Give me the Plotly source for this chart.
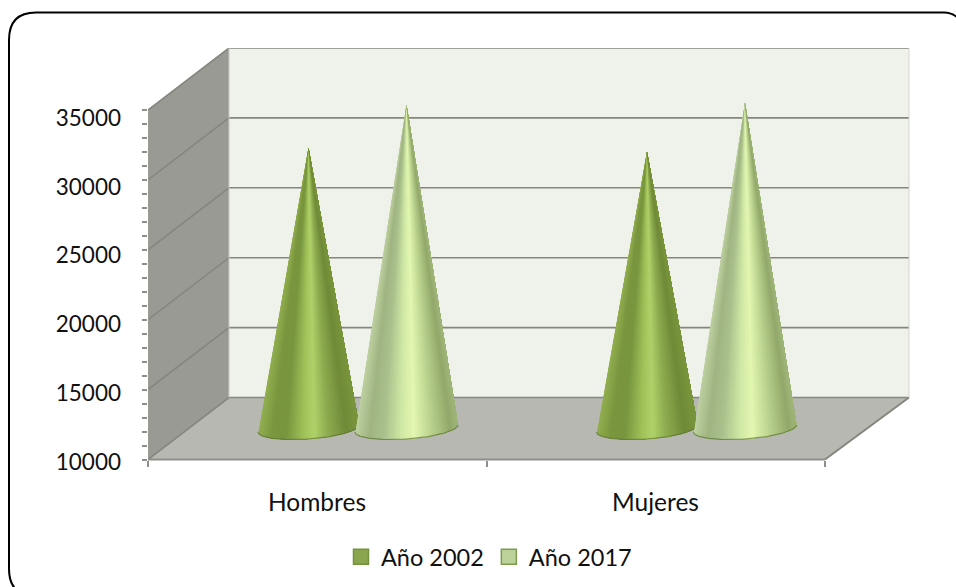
import numpy as np
import plotly.graph_objects as go

# ---- data ----
categories = ["Hombres", "Mujeres"]
series_names = ["Año 2002", "Año 2017"]
valores_2002 = [30060, 29780]
valores_2017 = [33140, 33280]
y_ticks = [10000, 15000, 20000, 25000, 30000, 35000]
minor_step = 1000

W, H = 956, 587
# pixel geometry of the front plane
X0, X1 = 148.0, 825.0      # category axis extent
Y0, Y1 = 459.5, 110.0      # 10000 and 35000
DX, DY = 81.0, 62.0        # depth of the box
DX_R = 84.0                # depth at the right-hand end
PX_PER_X = (X1 - X0) / 2   # px per category
PX_PER_Y = (Y0 - Y1) / 25000
DOM_BOTTOM = 490.0         # plot domain runs a little below the floor for the label axis

left, right, top = X0, X1 + DX_R + 2, Y1 - DY
x_range = [0, (right - left) / PX_PER_X]
y_range = [10000 - (DOM_BOTTOM - Y0) / PX_PER_Y, 10000 + (Y0 - top) / PX_PER_Y]
dxd = DX / PX_PER_X
dxr = DX_R / PX_PER_X
dyd = DY / PX_PER_Y
x_end = 2.0


def poly(xs, ys, color):
    return go.Scatter(x=xs, y=ys, mode="lines", fill="toself", fillcolor=color,
                      line=dict(color=color, width=0), hoverinfo="skip",
                      showlegend=False, xaxis="x", yaxis="y")


def lerp_stops(u, stops):
    us = [s[0] for s in stops]
    r = np.interp(u, us, [s[1][0] for s in stops])
    g = np.interp(u, us, [s[1][1] for s in stops])
    b = np.interp(u, us, [s[1][2] for s in stops])
    return f"rgb({r:.0f},{g:.0f},{b:.0f})"


shade_2002 = [(-1, (146, 175, 80)), (-0.72, (122, 150, 62)), (-0.45, (120, 150, 62)),
              (-0.1, (160, 192, 88)), (0.12, (176, 208, 106)), (0.4, (140, 170, 78)),
              (0.75, (112, 138, 56)), (1, (122, 150, 60))]
shade_2017 = [(-1, (190, 208, 160)), (-0.72, (160, 180, 130)), (-0.45, (170, 192, 140)),
              (-0.1, (208, 232, 165)), (0.15, (226, 246, 176)), (0.45, (190, 214, 145)),
              (0.85, (146, 168, 106)), (1, (160, 182, 122))]

traces = []
# side wall, back wall, floor
traces.append(poly([0, dxd, dxd, 0, 0], [10000, 10000 + dyd, 35000 + dyd, 35000, 10000], "#999a93"))
traces.append(poly([dxd, x_end + dxr, x_end + dxr, dxd, dxd],
                   [10000 + dyd, 10000 + dyd, 35000 + dyd, 35000 + dyd, 10000 + dyd], "#eff1eb"))
traces.append(poly([0, x_end, x_end + dxr, dxd, 0],
                   [10000, 10000, 10000 + dyd, 10000 + dyd, 10000], "#b6b8b1"))
# gridlines on walls
grid = "#85877f"
for v in y_ticks:
    traces.append(go.Scatter(x=[0, dxd, x_end + dxr], y=[v, v + dyd, v + dyd], mode="lines",
                             line=dict(color=grid, width=1.6), hoverinfo="skip", showlegend=False))
traces.append(go.Scatter(x=[dxd, dxd], y=[10000 + dyd, 35000 + dyd], mode="lines",
                         line=dict(color="#c9cac5", width=1), hoverinfo="skip", showlegend=False))
traces.append(go.Scatter(x=[x_end, x_end + dxr], y=[10000, 10000 + dyd], mode="lines",
                         line=dict(color=grid, width=2), hoverinfo="skip", showlegend=False))
traces.append(go.Scatter(x=[x_end + dxr, x_end + dxr], y=[10000 + dyd, 35000 + dyd], mode="lines",
                         line=dict(color="#d4d5d0", width=1), hoverinfo="skip", showlegend=False))

# cones: apex from the value, base ellipse resting on the floor
BASE_DY = 31 / PX_PER_Y
CENTER_OFF = {0: (308.5 - X0) / PX_PER_X, 1: (406.5 - X0) / PX_PER_X}
RX = {0: 50.5 / PX_PER_X, 1: 51.5 / PX_PER_X}
RY = 10.5 / PX_PER_Y
TILT = 3.5 / PX_PER_Y


def cone(icat, iser, value, stops):
    cx = CENTER_OFF[iser] + icat
    rx = RX[iser]
    base = 10000 + BASE_DY
    apex_y = value + BASE_DY
    n = 72
    th = np.linspace(np.pi, 2 * np.pi, n + 1)   # front half of the ellipse
    bx = cx + rx * np.cos(th)
    by = base + RY * np.sin(th) + TILT * np.cos(th)
    out = []
    # painter's order: each facet runs on to the far edge, so no seams show
    for i in range(n):
        u = (np.cos(th[i]) + np.cos(th[i + 1])) / 2
        col = lerp_stops(u, stops)
        out.append(poly([cx, *bx[i:], cx], [apex_y, *by[i:], apex_y], col))
    out.append(go.Scatter(x=bx, y=by, mode="lines", line=dict(color="rgba(95,120,50,0.75)", width=1.2),
                          hoverinfo="skip", showlegend=False))
    return out


for ic in range(2):
    traces += cone(ic, 0, valores_2002[ic], shade_2002)
    traces += cone(ic, 1, valores_2017[ic], shade_2017)

# legend entries
traces.append(go.Scatter(x=[None], y=[None], mode="markers", name=series_names[0], hoverinfo="skip",
                         marker=dict(symbol="square", size=15, color="#8aa64e", line=dict(color="#75923c", width=1.5))))
traces.append(go.Scatter(x=[None], y=[None], mode="markers", name=series_names[1], hoverinfo="skip",
                         marker=dict(symbol="square", size=15, color="#bdd19a", line=dict(color="#7f9c4c", width=1.5))))
# carrier for the tick-label axis
traces.append(go.Scatter(x=[None], y=[None], yaxis="y2", mode="markers", showlegend=False, hoverinfo="skip"))

FONT = "Lato, Carlito, Calibri, sans-serif"
TXT = "#111111"
minor_vals = [v for v in range(10000, 35001, minor_step)]

# label axis: the labels sit on a slightly different scale than the ticks
LBL_Y0, LBL_Y1 = 462.0, 118.0
lbl_ppy = (LBL_Y0 - LBL_Y1) / 25000
lbl_range = [10000 + (LBL_Y0 - DOM_BOTTOM) / lbl_ppy, 10000 + (LBL_Y0 - top) / lbl_ppy]

fig = go.Figure(traces)
fig.update_layout(
    width=W, height=H, autosize=False,
    margin=dict(l=0, r=0, t=0, b=0), paper_bgcolor="white", plot_bgcolor="white",
    font=dict(family=FONT, size=22, color=TXT),
    xaxis=dict(domain=[left / W, right / W], range=x_range, showgrid=False, zeroline=False,
               anchor="free", position=1 - Y0 / H,
               showline=False, tickmode="array", tickvals=[0, 1, 2], ticktext=["", "", ""],
               ticks="outside", ticklen=6, tickwidth=2, tickcolor="#8e908a", fixedrange=True),
    yaxis=dict(domain=[1 - DOM_BOTTOM / H, 1 - top / H], range=y_range, showgrid=False, zeroline=False,
               showline=False, tickmode="array", tickvals=minor_vals,
               ticktext=[""] * len(minor_vals), ticks="outside", ticklen=5, tickwidth=1.5,
               tickcolor="#8e908a", fixedrange=True),
    yaxis2=dict(range=lbl_range, overlaying="y", side="left",
                showgrid=False, zeroline=False, showline=False, tickmode="array", tickvals=y_ticks,
                ticktext=[str(v) for v in y_ticks], ticks="", ticklabelstandoff=26, fixedrange=True,
                tickfont=dict(family=FONT, size=22.5, color=TXT)),
    legend=dict(orientation="h", x=0.5 + 11 / W, xanchor="center", y=0.022 - 5 / H, yanchor="bottom",
                bgcolor="rgba(0,0,0,0)", font=dict(family=FONT, size=23.5, color=TXT),
                itemclick=False, itemdoubleclick=False),
    shapes=[
        *[dict(type="line", xref="x", yref="y", x0=-9 / PX_PER_X, x1=0, y0=v, y1=v,
               line=dict(color="#8e908a", width=2)) for v in y_ticks],
        dict(type="line", xref="x", yref="y", x0=0, x1=0, y0=10000, y1=35000, line=dict(color="#9b9c95", width=1.5)),
        dict(type="line", xref="x", yref="y", x0=0, x1=2, y0=10000, y1=10000, line=dict(color="#8e908a", width=2)),
        # rounded frame, cut by the page on the right and bottom
        dict(type="path", xref="paper", yref="paper",
             path=(f"M {36/W} {1-596/H} Q {9/W} {1-596/H} {9/W} {1-569/H} L {9/W} {1-40/H} "
                   f"Q {9/W} {1-12.5/H} {36/W} {1-12.5/H} "
                   f"L {944/W} {1-12.5/H} Q {952/W} {1-12.5/H} {958/W} {1-18/H}"),
             line=dict(color="black", width=2), fillcolor="rgba(0,0,0,0)"),
    ],
    annotations=[
        dict(x=i + 0.5, xref="x", y=(1 - 501 / H), yref="paper", text=c, showarrow=False,
             font=dict(family=FONT, size=24.5, color=TXT), yanchor="middle")
        for i, c in enumerate(categories)
    ],
)
fig.write_html("out.html", config=dict(displayModeBar=False),
               post_script="document.body.style.margin='0';document.documentElement.style.overflow='hidden';")
